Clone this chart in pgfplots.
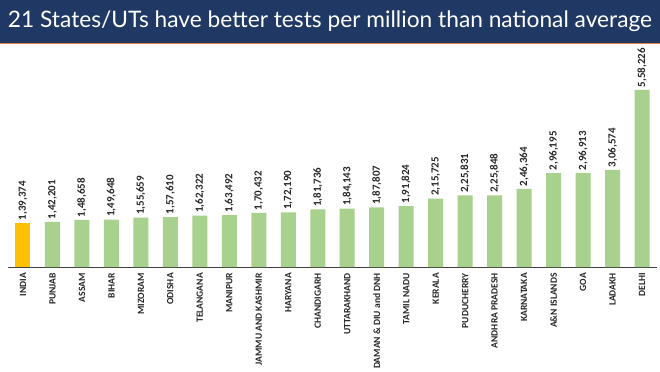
\documentclass[border=0pt]{standalone}
\usepackage{pgfplots}
\pgfplotsset{compat=1.18}
\usepackage{pgfplotstable}
\usepackage{fontspec}
\setmainfont{Carlito}
\newfontfamily\titlefont{Lato}
\definecolor{navy}{HTML}{203864}
\definecolor{barg}{HTML}{A9D18E}
\definecolor{barI}{HTML}{FFC000}
\definecolor{orline}{HTML}{E08040}
\pgfplotstableread{
x y lab
0 139374 1,39,374
}\india
\pgfplotstableread{
x y lab
1 142201 1,42,201
2 148658 1,48,658
3 149648 1,49,648
4 155659 1,55,659
5 157610 1,57,610
6 162322 1,62,322
7 163492 1,63,492
8 170432 1,70,432
9 172190 1,72,190
10 181736 1,81,736
11 184143 1,84,143
12 187807 1,87,807
13 191824 1,91,824
14 215725 2,15,725
15 225831 2,25,831
16 225848 2,25,848
17 246364 2,46,364
18 296195 2,96,195
19 296913 2,96,913
20 306574 3,06,574
21 558226 5,58,226
}\states
\begin{document}
\begin{tikzpicture}
\path[use as bounding box, fill=white] (0,0) rectangle (660bp,372bp);
\fill[navy] (0,329bp) rectangle (660bp,372bp);
\fill[orline] (0,327.5bp) rectangle (660bp,329bp);
\node[text=white, font=\titlefont] at (330bp,350.5bp) {\resizebox{644bp}{!}{21 States/UTs have better tests per million than national average}};
\begin{axis}[
  at={(8.25bp,105bp)}, anchor=south west,
  scale only axis, width=648.5bp, height=190.3bp,
  xmin=-0.5, xmax=21.5, ymin=0, ymax=600000,
  axis x line*=bottom, axis y line=none,
  x axis line style={draw=black!75, line width=1pt, -},
  xtick={0,...,21},
  xticklabels={INDIA,PUNJAB,ASSAM,BIHAR,MIZORAM,ODISHA,TELANGANA,MANIPUR,JAMMU AND KASHMIR,HARYANA,CHANDIGARH,UTTARAKHAND,DAMAN \& DIU and DNH,TAMIL NADU,KERALA,PUDUCHERRY,ANDHRA PRADESH,KARNATAKA,A\&N ISLANDS,GOA,LADAKH,DELHI},
  xticklabel style={rotate=90, anchor=east, font=\fontsize{9.6}{11}\selectfont\bfseries, text=black!85, inner sep=0pt},
  major tick length=0pt,
  ticklabel shift=6bp,
  ybar, bar width=15bp, bar shift=0pt,
  nodes near coords, point meta=explicit symbolic,
  every node near coord/.style={rotate=90, anchor=west, font=\fontsize{11}{13}\selectfont\bfseries, text=black!85, inner sep=2.5bp},
  clip=false,
]
\addplot[fill=barI, draw=none] table[x=x, y=y, meta=lab] {\india};
\addplot[fill=barg, draw=none] table[x=x, y=y, meta=lab] {\states};
\end{axis}
\end{tikzpicture}
\end{document}
